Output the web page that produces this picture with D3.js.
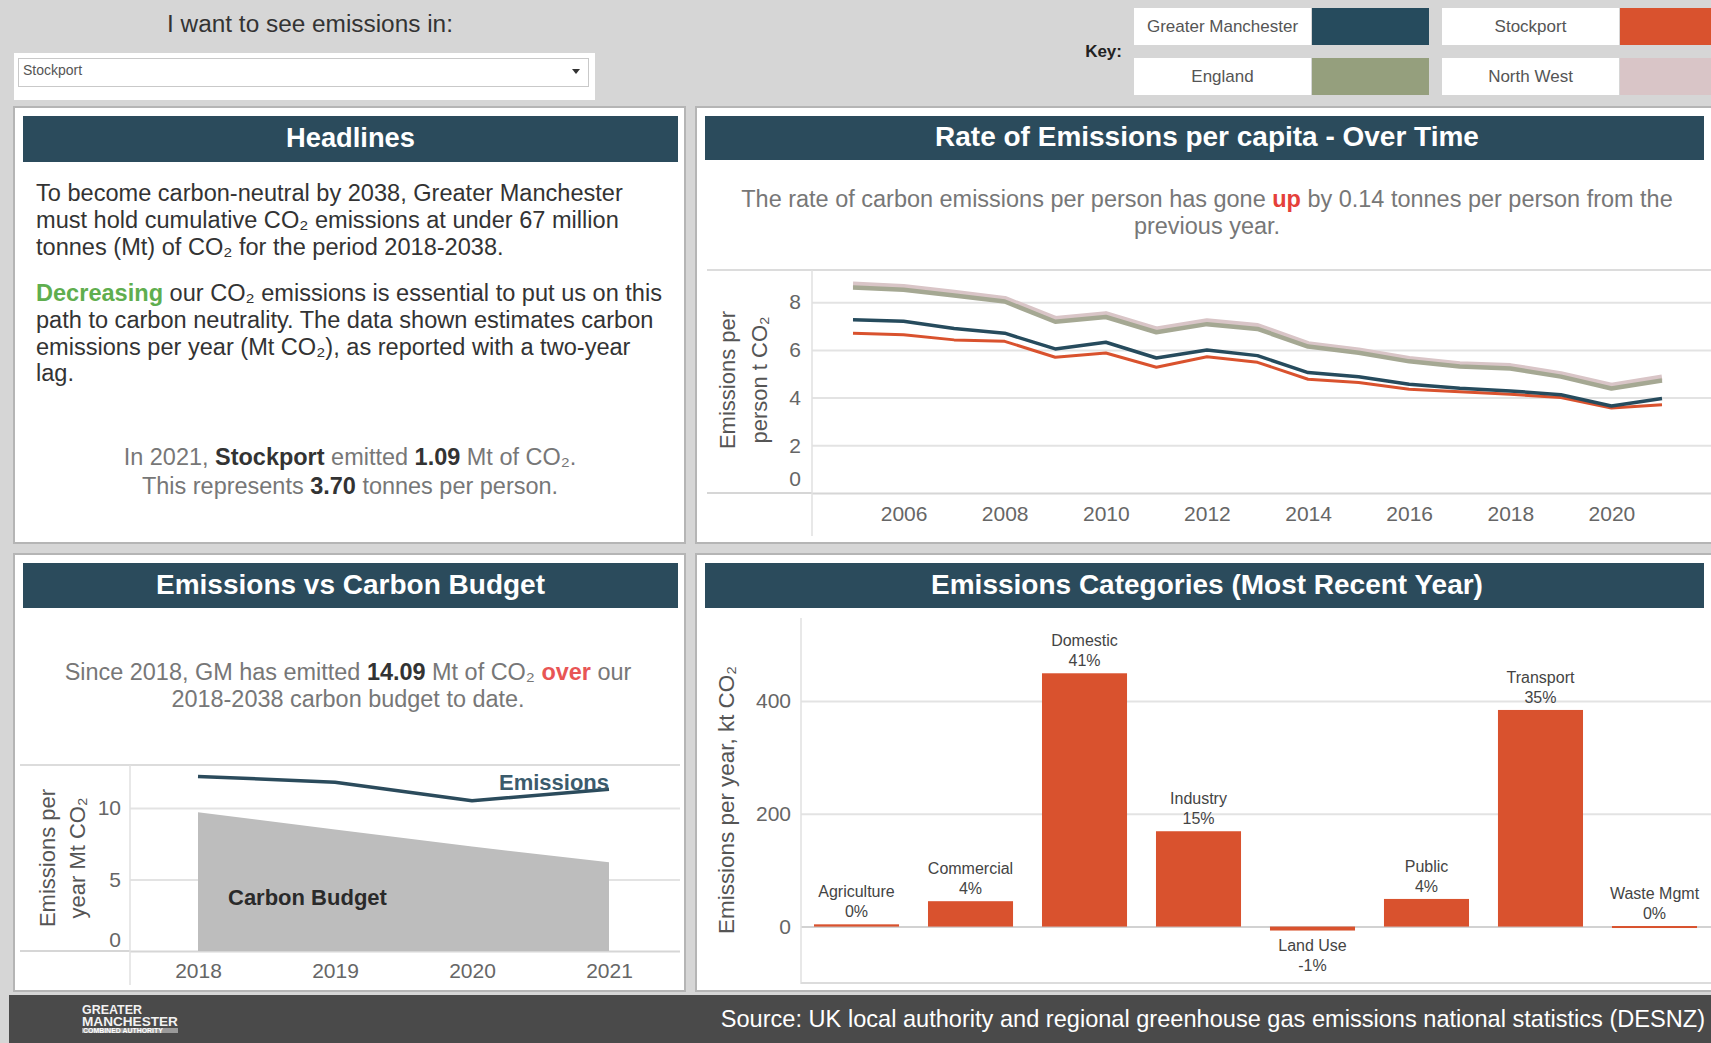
<!DOCTYPE html>
<html><head><meta charset="utf-8">
<script src="https://cdn.jsdelivr.net/npm/d3@7"></script>
<style>
html,body{margin:0;padding:0;background:#d6d6d6;overflow:hidden;}
svg{display:block;font-family:"Liberation Sans",Arial,sans-serif;}
</style></head><body>
<svg id="c" width="1711" height="1043"></svg>
<script>
// ---------------- DATA ----------------
const legendNames = ["Greater Manchester", "Stockport", "England", "North West"];
const legendColors = ["#264b5d", "#d9522e", "#959f7d", "#d9c5c7"];

const rateYears = [2005, 2006, 2007, 2008, 2009, 2010, 2011, 2012, 2013, 2014, 2015, 2016, 2017, 2018, 2019, 2020, 2021];
const gmRate        = [7.26, 7.20, 6.90, 6.70, 6.04, 6.32, 5.66, 6.00, 5.76, 5.05, 4.87, 4.56, 4.39, 4.28, 4.12, 3.65, 3.96];
const stockportRate = [6.70, 6.64, 6.42, 6.36, 5.69, 5.87, 5.27, 5.71, 5.48, 4.77, 4.63, 4.35, 4.25, 4.14, 4.00, 3.56, 3.70];
const englandRate   = [8.62, 8.52, 8.28, 8.03, 7.18, 7.38, 6.74, 7.08, 6.88, 6.14, 5.88, 5.52, 5.30, 5.22, 4.88, 4.38, 4.72];
const northWestRate = [8.74, 8.64, 8.40, 8.14, 7.30, 7.50, 6.86, 7.20, 7.00, 6.24, 5.98, 5.62, 5.40, 5.32, 4.98, 4.50, 4.84];
const rateYTicks = [0, 2, 4, 6, 8];
const rateXTicks = [2006, 2008, 2010, 2012, 2014, 2016, 2018, 2020];

const budgetYears = [2018, 2019, 2020, 2021];
const emissionsMt = [12.2, 11.8, 10.5, 11.3];
const budgetMt    = [9.7, 8.5, 7.3, 6.2];
const budgetYTicks = [0, 5, 10];

const categories = ["Agriculture", "Commercial", "Domestic", "Industry", "Land Use", "Public", "Transport", "Waste Mgmt"];
const categoryKt = [4, 45, 449, 169, -7, 49, 384, 1];
const categoryYTicks = [0, 200, 400];

// ---------------- HELPERS ----------------
const svg = d3.select("#c");
const FONT = '"Liberation Sans", Arial, sans-serif';

function fit(sel, target) {
  const fs = parseFloat(sel.attr("font-size"));
  const w = sel.node().getComputedTextLength();
  const nfs = fs * target / w;
  sel.attr("font-size", nfs);
  return nfs;
}
function richText(g, x, y, parts, opts) {
  const t = g.append("text").attr("x", x).attr("y", y)
    .attr("text-anchor", opts.anchor || "start")
    .attr("font-size", opts.size).attr("fill", opts.fill);
  parts.forEach(p => {
    const s = t.append("tspan").text(p.t);
    if (p.b) s.attr("font-weight", "bold");
    if (p.c) s.attr("fill", p.c);
  });
  return t;
}

// background
svg.append("rect").attr("width", 1711).attr("height", 1043).attr("fill", "#d6d6d6");

// ---------------- TOP BAR ----------------
const topG = svg.append("g");
const want = topG.append("text").attr("x", 310).attr("y", 32).attr("text-anchor", "middle")
  .attr("font-size", 22).attr("fill", "#333").text("I want to see emissions in:");
fit(want, 286);
topG.append("rect").attr("x", 14).attr("y", 53).attr("width", 581).attr("height", 47).attr("fill", "#fff");
topG.append("rect").attr("x", 18.5).attr("y", 58.5).attr("width", 570).attr("height", 28).attr("fill", "#fff")
  .attr("stroke", "#c9c9c9").attr("stroke-width", 1);
topG.append("text").attr("x", 23).attr("y", 75).attr("font-size", 14).attr("fill", "#555").text("Stockport");
topG.append("path").attr("d", "M572,69 L580,69 L576,74 Z").attr("fill", "#333");

topG.append("text").attr("x", 1122).attr("y", 57).attr("text-anchor", "end")
  .attr("font-size", 17).attr("font-weight", "bold").attr("fill", "#222").text("Key:");
const legX = [1134, 1442], legY = [8, 58];
legendNames.forEach((n, i) => {
  const lx = legX[i % 2], ly = legY[Math.floor(i / 2)];
  const tw = 177;
  topG.append("rect").attr("x", lx).attr("y", ly).attr("width", tw).attr("height", 37).attr("fill", "#fff");
  topG.append("rect").attr("x", lx + tw + 1).attr("y", ly).attr("width", i % 2 === 0 ? 117 : 100)
    .attr("height", 37).attr("fill", legendColors[i]);
  topG.append("text").attr("x", lx + tw / 2).attr("y", ly + 24).attr("text-anchor", "middle")
    .attr("font-size", 17).attr("fill", "#555").text(n);
});

// ---------------- PANELS ----------------
function panel(x0, y0, x1, y1, title, titleW, hy1) {
  const g = svg.append("g");
  g.append("rect").attr("x", x0).attr("y", y0).attr("width", x1 - x0).attr("height", y1 - y0)
    .attr("fill", "#fff").attr("stroke", "#b5b5b5").attr("stroke-width", 2);
  g.append("rect").attr("x", x0 + 9).attr("y", y0 + 9).attr("width", Math.min(x1, 1711) - x0 - 16)
    .attr("height", hy1 - y0 - 9).attr("fill", "#2b4b5c");
  const t = g.append("text").attr("x", (x0 + 9 + Math.min(x1 - 7, 1709)) / 2).attr("y", (y0 + 9 + hy1) / 2 + 8)
    .attr("text-anchor", "middle").attr("font-size", 24).attr("font-weight", "bold").attr("fill", "#fff").text(title);
  fit(t, titleW);
  return g;
}
const p1 = panel(14, 107, 685, 543, "Headlines", 129, 162);
const p2 = panel(696, 107, 1716, 543, "Rate of Emissions per capita - Over Time", 544, 160);
const p3 = panel(14, 554, 685, 991, "Emissions vs Carbon Budget", 389, 608);
const p4 = panel(696, 554, 1716, 991, "Emissions Categories (Most Recent Year)", 552, 608);

// ---------------- HEADLINES ----------------
const h1 = [
  [{t: "To become carbon-neutral by 2038, Greater Manchester"}],
  [{t: "must hold cumulative CO₂ emissions at under 67 million"}],
  [{t: "tonnes (Mt) of CO₂ for the period 2018-2038."}],
];
const h2 = [
  [{t: "Decreasing", b: true, c: "#5fae4f"}, {t: " our CO₂ emissions is essential to put us on this"}],
  [{t: "path to carbon neutrality. The data shown estimates carbon"}],
  [{t: "emissions per year (Mt CO₂), as reported with a two-year"}],
  [{t: "lag."}],
];
const firstLine = richText(p1, 36, 201, h1[0], {size: 22, fill: "#333"});
const hfs = fit(firstLine, 587);
[201, 228, 255].forEach((yy, i) => { if (i > 0) richText(p1, 36, yy, h1[i], {size: hfs, fill: "#333"}); });
[301, 328, 355, 381].forEach((yy, i) => richText(p1, 36, yy, h2[i], {size: hfs, fill: "#333"}));
const b1 = richText(p1, 350, 465, [{t: "In 2021, "}, {t: "Stockport", b: true, c: "#333"}, {t: " emitted "}, {t: "1.09", b: true, c: "#333"}, {t: " Mt of CO₂."}], {size: 20, fill: "#777", anchor: "middle"});
const bfs = fit(b1, 453);
richText(p1, 350, 494, [{t: "This represents "}, {t: "3.70", b: true, c: "#333"}, {t: " tonnes per person."}], {size: bfs, fill: "#777", anchor: "middle"});

// ---------------- RATE CHART ----------------
const rx = d3.scaleLinear().domain([2005, 2021]).range([853, 1662]);
const ry = d3.scaleLinear().domain([0, 9.35]).range([493, 270]);
const s1 = richText(p2, 1207, 207, [{t: "The rate of carbon emissions per person has gone "}, {t: "up", b: true, c: "#e5403a"}, {t: " by 0.14 tonnes per person from the"}], {size: 20, fill: "#777", anchor: "middle"});
const sfs = fit(s1, 932);
richText(p2, 1207, 234, [{t: "previous year."}], {size: sfs, fill: "#777", anchor: "middle"});

p2.append("line").attr("x1", 707).attr("x2", 1711).attr("y1", ry(9.35)).attr("y2", ry(9.35)).attr("stroke", "#dcdcdc").attr("stroke-width", 2);
const rAxis = p2.append("g").attr("transform", "translate(812,0)")
  .call(d3.axisLeft(ry).tickValues(rateYTicks).tickSize(-(1711 - 812)).tickPadding(11));
rAxis.select(".domain").remove();
rAxis.selectAll(".tick line").attr("stroke", d => d === 0 ? "#d6d6d6" : "#e3e3e3").attr("stroke-width", 2);
rAxis.selectAll(".tick text").attr("font-size", 21).attr("fill", "#666").attr("font-family", FONT)
  .attr("dy", d => d === 0 ? "-0.35em" : "0.32em");
p2.append("line").attr("x1", 707).attr("x2", 812).attr("y1", ry(0)).attr("y2", ry(0)).attr("stroke", "#d6d6d6").attr("stroke-width", 2);
p2.append("line").attr("x1", 812).attr("x2", 812).attr("y1", 270).attr("y2", 536).attr("stroke", "#e0e0e0").attr("stroke-width", 1.5);
const rxAxis = p2.append("g").attr("transform", `translate(0,${ry(0)})`)
  .call(d3.axisBottom(rx).tickValues(rateXTicks).tickFormat(d3.format("d")).tickSize(0).tickPadding(13));
rxAxis.select(".domain").remove();
rxAxis.selectAll(".tick text").attr("font-size", 21).attr("fill", "#666").attr("font-family", FONT);

[["Emissions per", 727], ["person t CO₂", 759]].forEach(([t, x]) => {
  p2.append("text").attr("transform", `translate(${x},380) rotate(-90)`).attr("text-anchor", "middle")
    .attr("dominant-baseline", "central").attr("font-size", 22).attr("fill", "#555").text(t);
});

const rLine = d3.line().x((d, i) => rx(rateYears[i])).y(d => ry(d));
p2.append("path").attr("d", rLine(northWestRate)).attr("fill", "none").attr("stroke", legendColors[3]).attr("stroke-width", 6).attr("stroke-linejoin", "round");
p2.append("path").attr("d", rLine(englandRate)).attr("fill", "none").attr("stroke", "#a5a893").attr("stroke-width", 4.5).attr("stroke-linejoin", "round");
p2.append("path").attr("d", rLine(stockportRate)).attr("fill", "none").attr("stroke", legendColors[1]).attr("stroke-width", 3).attr("stroke-linejoin", "round");
p2.append("path").attr("d", rLine(gmRate)).attr("fill", "none").attr("stroke", legendColors[0]).attr("stroke-width", 3.5).attr("stroke-linejoin", "round");

// ---------------- BUDGET CHART ----------------
const bx = d3.scaleLinear().domain([2018, 2021]).range([198, 609]);
const by = d3.scaleLinear().domain([0, 13]).range([951, 765]);
const s3 = richText(p3, 348, 680, [{t: "Since 2018, GM has emitted "}, {t: "14.09", b: true, c: "#333"}, {t: " Mt of CO₂ "}, {t: "over", b: true, c: "#e85555"}, {t: " our"}], {size: 20, fill: "#777", anchor: "middle"});
const s3fs = fit(s3, 567);
richText(p3, 348, 707, [{t: "2018-2038 carbon budget to date."}], {size: s3fs, fill: "#777", anchor: "middle"});

p3.append("line").attr("x1", 20).attr("x2", 680).attr("y1", 765).attr("y2", 765).attr("stroke", "#dcdcdc").attr("stroke-width", 2);
const bAxis = p3.append("g").attr("transform", "translate(130,0)")
  .call(d3.axisLeft(by).tickValues(budgetYTicks).tickSize(-(680 - 130)).tickPadding(9));
bAxis.select(".domain").remove();
bAxis.selectAll(".tick line").attr("stroke", d => d === 0 ? "#d6d6d6" : "#e3e3e3").attr("stroke-width", 2);
bAxis.selectAll(".tick text").attr("font-size", 21).attr("fill", "#666").attr("font-family", FONT)
  .attr("dy", d => d === 0 ? "-0.2em" : "0.32em");
p3.append("line").attr("x1", 20).attr("x2", 130).attr("y1", by(0)).attr("y2", by(0)).attr("stroke", "#d6d6d6").attr("stroke-width", 2);
p3.append("line").attr("x1", 130).attr("x2", 130).attr("y1", 765).attr("y2", 985).attr("stroke", "#e0e0e0").attr("stroke-width", 1.5);
const bxAxis = p3.append("g").attr("transform", `translate(0,${by(0)})`)
  .call(d3.axisBottom(bx).tickValues(budgetYears).tickFormat(d3.format("d")).tickSize(0).tickPadding(12));
bxAxis.select(".domain").remove();
bxAxis.selectAll(".tick text").attr("font-size", 21).attr("fill", "#666").attr("font-family", FONT);

[["Emissions per", 47], ["year Mt CO₂", 77]].forEach(([t, x]) => {
  p3.append("text").attr("transform", `translate(${x},858) rotate(-90)`).attr("text-anchor", "middle")
    .attr("dominant-baseline", "central").attr("font-size", 22).attr("fill", "#555").text(t);
});

const bArea = d3.area().x((d, i) => bx(budgetYears[i])).y0(by(0)).y1(d => by(d));
p3.append("path").attr("d", bArea(budgetMt)).attr("fill", "#bdbdbd");
const bLine = d3.line().x((d, i) => bx(budgetYears[i])).y(d => by(d));
p3.append("path").attr("d", bLine(emissionsMt)).attr("fill", "none").attr("stroke", "#2b4b5c").attr("stroke-width", 3.5).attr("stroke-linejoin", "round");
p3.append("text").attr("x", bx(2021)).attr("y", 790).attr("text-anchor", "end").attr("font-size", 22)
  .attr("font-weight", "bold").attr("fill", "#3b5b6c").text("Emissions");
p3.append("text").attr("x", 228).attr("y", 905).attr("font-size", 22)
  .attr("font-weight", "bold").attr("fill", "#2a2a2a").text("Carbon Budget");

// ---------------- CATEGORIES CHART ----------------
const cxs = d3.scaleBand().domain(categories).range([801, 1710]).paddingInner(0.254).paddingOuter(0.114);
const cys = d3.scaleLinear().domain([-100, 547]).range([983, 618]);
const cAxis = p4.append("g").attr("transform", "translate(801,0)")
  .call(d3.axisLeft(cys).tickValues(categoryYTicks).tickSize(-(1711 - 801)).tickPadding(10));
cAxis.select(".domain").remove();
cAxis.selectAll(".tick line").attr("stroke", d => d === 0 ? "#d2d2d2" : "#e3e3e3").attr("stroke-width", 2);
cAxis.selectAll(".tick text").attr("font-size", 21).attr("fill", "#666").attr("font-family", FONT);
p4.append("line").attr("x1", 801).attr("x2", 801).attr("y1", 618).attr("y2", 984).attr("stroke", "#e0e0e0").attr("stroke-width", 1.5);
p4.append("line").attr("x1", 801).attr("x2", 1711).attr("y1", 983).attr("y2", 983).attr("stroke", "#dcdcdc").attr("stroke-width", 2);
const cTitle = p4.append("text").attr("transform", "translate(726,800) rotate(-90)").attr("text-anchor", "middle")
  .attr("dominant-baseline", "central").attr("font-size", 22).attr("fill", "#555").text("Emissions per year, kt CO₂");
fit(cTitle, 268);

const total = d3.sum(categoryKt);
p4.selectAll("rect.bar").data(categoryKt).enter().append("rect").attr("class", "bar")
  .attr("x", (d, i) => cxs(categories[i])).attr("width", cxs.bandwidth())
  .attr("y", d => cys(Math.max(0, d))).attr("height", d => Math.max(2, Math.abs(cys(d) - cys(0))))
  .attr("fill", "#d9522e");
categoryKt.forEach((d, i) => {
  const mx = cxs(categories[i]) + cxs.bandwidth() / 2;
  const pct = Math.round(d / total * 100) + "%";
  let yName, yPct;
  if (d >= 0) { yName = cys(d) - 33; yPct = cys(d) - 13; }
  else { yName = cys(d) + 15; yPct = cys(d) + 35; }
  p4.append("text").attr("x", mx).attr("y", yName).attr("dy", "0.35em").attr("text-anchor", "middle")
    .attr("font-size", 16).attr("fill", "#444").text(categories[i]);
  p4.append("text").attr("x", mx).attr("y", yPct).attr("dy", "0.35em").attr("text-anchor", "middle")
    .attr("font-size", 16).attr("fill", "#444").text(pct);
});

// ---------------- FOOTER ----------------
svg.append("rect").attr("x", 9).attr("y", 995).attr("width", 1702).attr("height", 48).attr("fill", "#4a4a4a");
const src = svg.append("text").attr("x", 1705).attr("y", 1027).attr("text-anchor", "end").attr("font-size", 22)
  .attr("fill", "#fff").text("Source: UK local authority and regional greenhouse gas emissions national statistics (DESNZ)");
fit(src, 985);
const lg1 = svg.append("text").attr("x", 82).attr("y", 1014).attr("font-size", 11).attr("font-weight", "bold").attr("fill", "#f2f2f2").text("GREATER");
fit(lg1, 60);
const lg2 = svg.append("text").attr("x", 82).attr("y", 1026).attr("font-size", 11).attr("font-weight", "bold").attr("fill", "#f2f2f2").text("MANCHESTER");
fit(lg2, 96);
svg.append("rect").attr("x", 82).attr("y", 1028).attr("width", 96).attr("height", 5).attr("fill", "#9a9a9a");
const lg3 = svg.append("text").attr("x", 83).attr("y", 1032.5).attr("font-size", 4).attr("font-weight", "bold").attr("fill", "#fff").text("COMBINED AUTHORITY");
fit(lg3, 80);
</script>
</body></html>
